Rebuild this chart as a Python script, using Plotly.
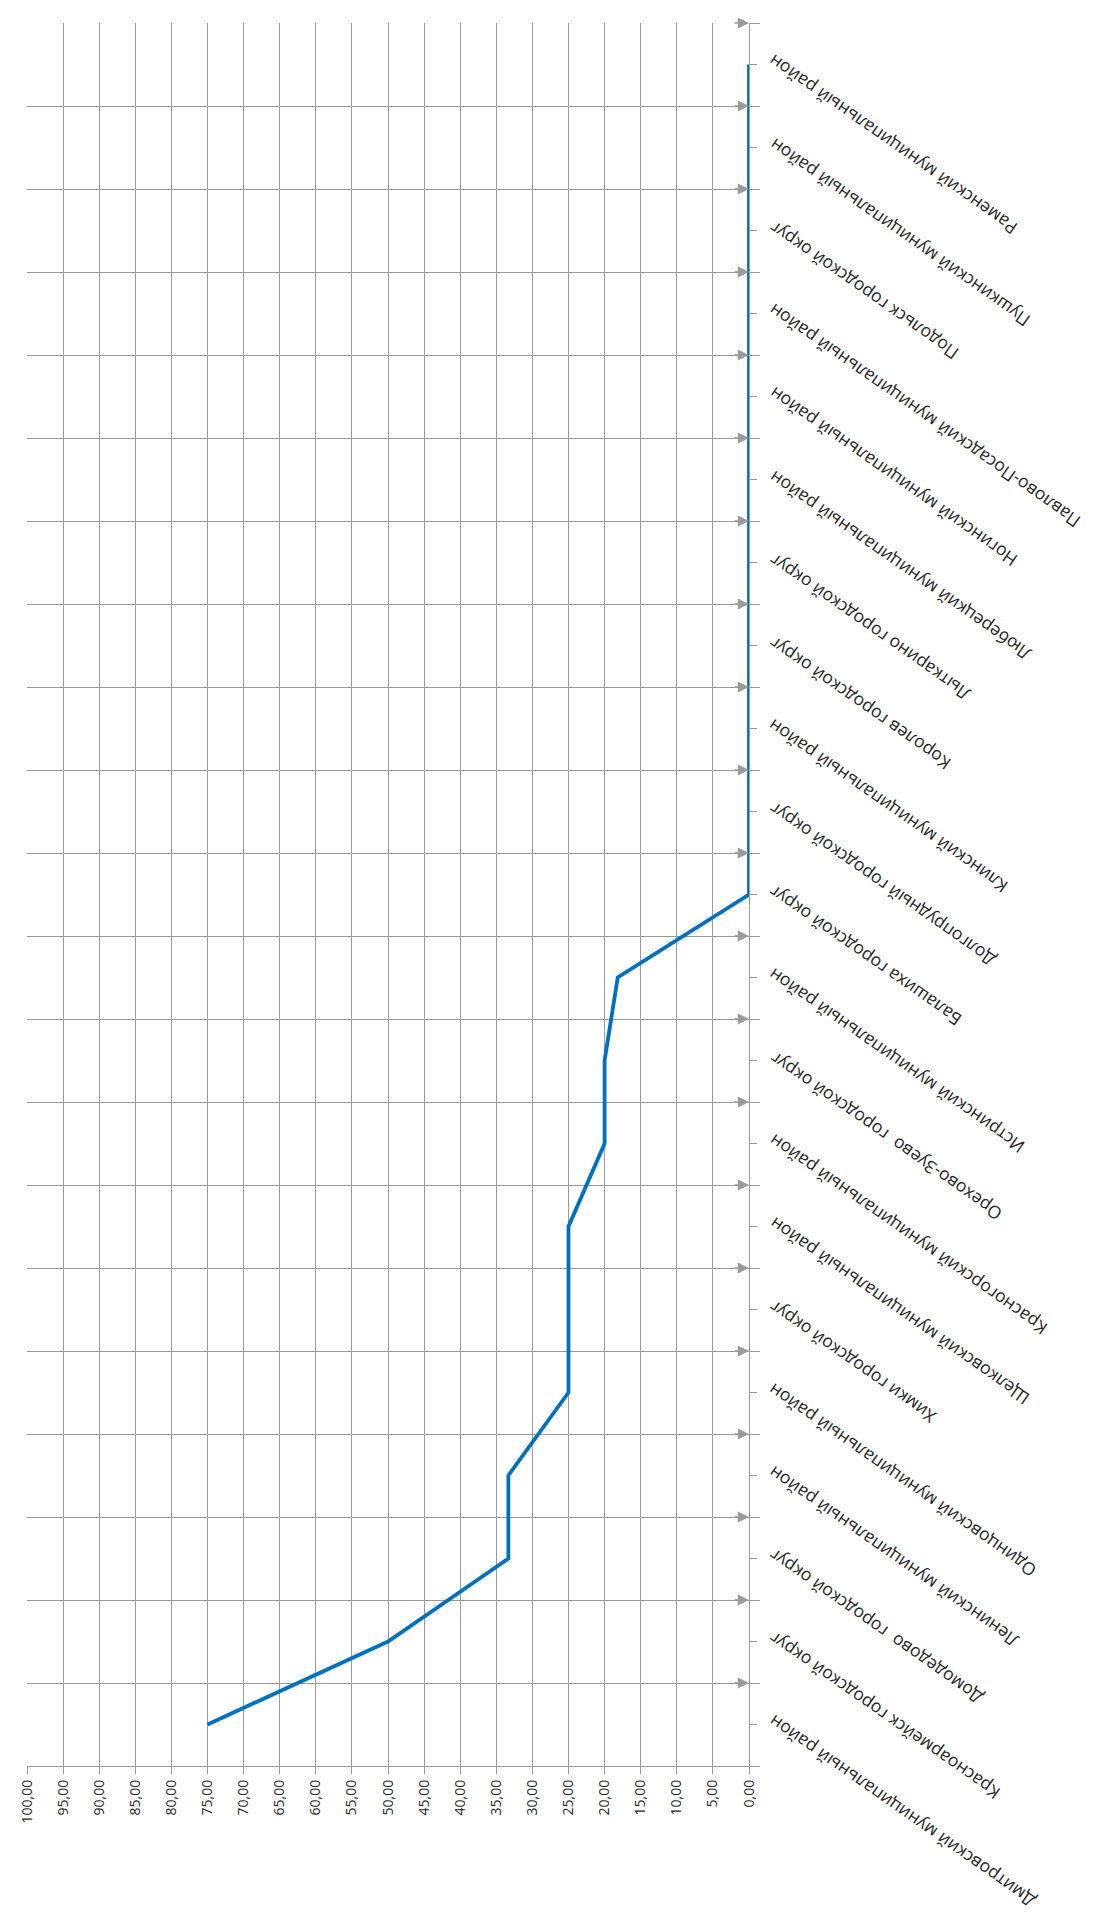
import plotly.graph_objects as go

# Categories listed from bottom of the chart to the top
categories = [
    "Дмитровский муниципальный район",
    "Красноармейск городской округ",
    "Домодедово\u00a0 городской округ",
    "Ленинский муниципальный район",
    "Одинцовский муниципальный район",
    "Химки городской округ",
    "Щелковский муниципальный район",
    "Красногорский муниципальный район",
    "Орехово-Зуево\u00a0 городской округ",
    "Истринский муниципальный район",
    "Балашиха городской округ",
    "Долгопрудный городской округ",
    "Клинский муниципальный район",
    "Королев городской округ",
    "Лыткарино городской округ",
    "Люберецкий муниципальный район",
    "Ногинский муниципальный район",
    "Павлово-Посадский муниципальный район",
    "Подольск городской округ",
    "Пушкинский муниципальный район",
    "Раменский муниципальный район",
]
values = [75, 50, 33.33, 33.33, 25, 25, 25, 20, 20, 18.18,
          0, 0, 0, 0, 0, 0, 0, 0, 0, 0, 0]
value_ticks = [0, 5, 10, 15, 20, 25, 30, 35, 40, 45, 50,
               55, 60, 65, 70, 75, 80, 85, 90, 95, 100]

GRID = "#9a9a9a"
n = len(categories)
idx = list(range(n))

fig = go.Figure()
fig.add_trace(go.Scatter(
    x=values, y=idx, mode="lines",
    line=dict(color="#0070C0", width=3.8),
    hoverinfo="skip", showlegend=False, cliponaxis=False,
))

fig.update_layout(
    width=1097, height=1921, autosize=False,
    margin=dict(l=19, r=356, t=15, b=163, autoexpand=False),
    plot_bgcolor="white", paper_bgcolor="white",
    separators=", ",
    showlegend=False,
)

fig.update_xaxes(
    range=[100, 0],
    tickmode="array", tickvals=value_ticks, tickformat=".2f",
    tickangle=-90,
    showgrid=True, gridcolor=GRID, gridwidth=1.4,
    showline=True, linecolor=GRID, linewidth=1.4,
    ticks="outside", ticklen=7, tickcolor=GRID, tickwidth=1.4,
    tickfont=dict(family="Open Sans", size=14, color="#262626"),
    zeroline=False, automargin=False,
)

fig.update_yaxes(
    range=[-0.5, n - 0.5],
    tickmode="linear", tick0=-0.5, dtick=1,
    showticklabels=False,
    showgrid=True, gridcolor=GRID, gridwidth=1.4,
    side="right",
    showline=True, linecolor=GRID, linewidth=1.4,
    ticks="outside", ticklen=10, tickcolor=GRID, tickwidth=1.4,
    zeroline=False, automargin=False,
    minor=dict(tickmode="linear", tick0=0, dtick=0.5, ticks="outside",
               ticklen=7, tickcolor=GRID, tickwidth=1.4, showgrid=False),
)

annotations = []
# arrowheads at the ends of the horizontal gridlines
for i in range(n):
    annotations.append(dict(
        x=0, y=i + 0.5, xref="x", yref="y", text="",
        showarrow=True, ax=-16, ay=0, arrowhead=2, arrowsize=1.6,
        arrowwidth=1.4, arrowcolor=GRID, standoff=0,
    ))
# category labels
for i, c in enumerate(categories):
    annotations.append(dict(
        x=0, y=i, xref="x", yref="y",
        text=c,
        showarrow=False, textangle=-145,
        xanchor="left", yanchor="top", xshift=12, yshift=17,
        font=dict(family="Open Sans", size=17.5, color="#262626"),
    ))
fig.update_layout(annotations=annotations)

fig.write_html("out.html")
